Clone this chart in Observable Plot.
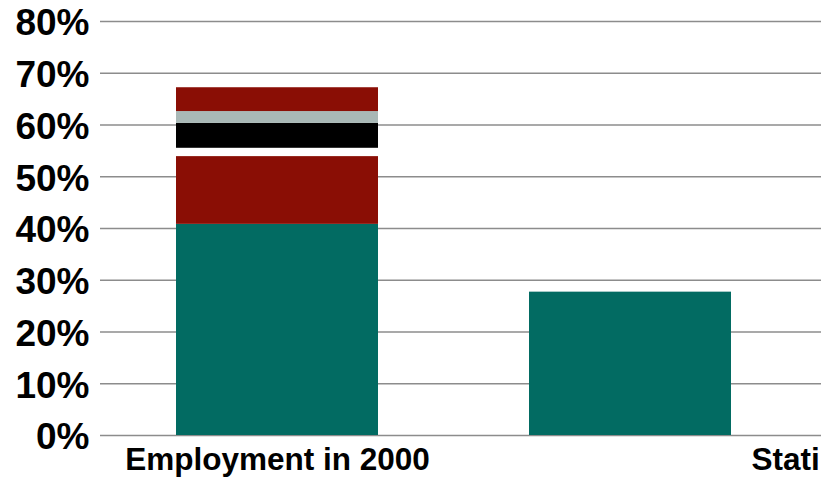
<!DOCTYPE html>
<html>
<head>
<meta charset="utf-8">
<script src="https://cdn.jsdelivr.net/npm/d3@7"></script>
<script src="https://cdn.jsdelivr.net/npm/@observablehq/plot@0.6"></script>
<style>
  html, body { margin: 0; padding: 0; background: #fff; }
  svg { font-family: "Liberation Sans", Arial, sans-serif; }
</style>
</head>
<body>
<div id="chart"></div>
<script>
const categories = ["Employment in 2000", "Stati"];
const seriesNames = ["Series A", "Series B", "Series C", "Series D", "Series E", "Series F"];
const seriesColors = ["#026b62", "#8a0e05", "#ffffff", "#000000", "#a9b8b6", "#8a0e05"];
const seriesA = [40.8, 27.7];
const seriesB = [13.1, 0];
const seriesC = [1.6, 0];
const seriesD = [4.8, 0];
const seriesE = [2.3, 0];
const seriesF = [4.6, 0];
const yTicks = [0, 10, 20, 30, 40, 50, 60, 70, 80];

const allSeries = [seriesA, seriesB, seriesC, seriesD, seriesE, seriesF];
const data = [];
allSeries.forEach((vals, si) => {
  vals.forEach((v, ci) => {
    data.push({category: categories[ci], series: seriesNames[si], value: v});
  });
});

const chart = Plot.plot({
  width: 821,
  height: 478,
  marginLeft: 100,
  marginRight: 0,
  marginTop: 21,
  marginBottom: 43,
  style: {fontFamily: "Liberation Sans, Arial, sans-serif", background: "#fff"},
  x: {domain: categories, range: [100, 807], paddingInner: 0.427, paddingOuter: 0.2135, label: null},
  y: {domain: [0, 80], label: null},
  color: {domain: seriesNames, range: seriesColors},
  marks: [
    Plot.gridY(yTicks, {stroke: "#8c8c8c", strokeOpacity: 1, strokeWidth: 1.6}),
    Plot.barY(data, {x: "category", y: "value", fill: "series", order: null}),
    Plot.axisY(yTicks, {
      tickSize: 0, tickPadding: 11, tickFormat: d => d + "%",
      fontSize: 37, fontWeight: "bold", fill: "#000", dy: 2, label: null
    }),
    Plot.axisX([categories[0]], {
      tickSize: 0, tickPadding: 12, fontSize: 31.5, fontWeight: "bold", fill: "#000", label: null
    }),
    Plot.axisX([categories[1]], {
      tickSize: 0, tickPadding: 12, fontSize: 31.5, fontWeight: "bold", fill: "#000",
      textAnchor: "start", dx: 121, label: null
    })
  ]
});
document.getElementById("chart").appendChild(chart);
</script>
</body>
</html>
